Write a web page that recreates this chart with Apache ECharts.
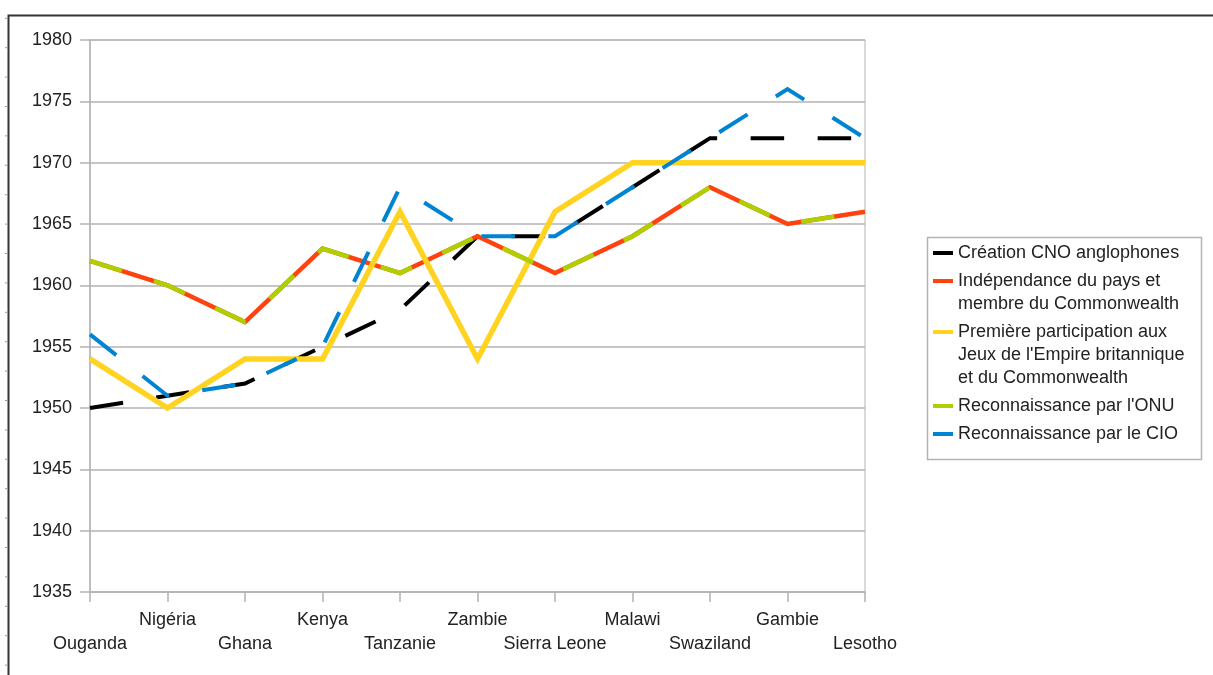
<!DOCTYPE html>
<html>
<head>
<meta charset="utf-8">
<script src="https://cdn.jsdelivr.net/npm/echarts@6.0.0/dist/echarts.min.js"></script>
<style>
  html, body { margin: 0; padding: 0; background: #ffffff; }
  #chart { width: 1213px; height: 675px; }
</style>
</head>
<body>
<div id="chart"></div>
<script>
// Pays africains anglophones : dates clés
const categories = ['Ouganda', 'Nigéria', 'Ghana', 'Kenya', 'Tanzanie', 'Zambie',
  'Sierra Leone', 'Malawi', 'Swaziland', 'Gambie', 'Lesotho'];

const creationCNO   = [1950, 1951, 1952, 1955, 1958, 1964, 1964, 1968, 1972, 1972, 1972];
const independance  = [1962, 1960, 1957, 1963, 1961, 1964, 1961, 1964, 1968, 1965, 1966];
const premiereJeux  = [1954, 1950, 1954, 1954, 1966, 1954, 1966, 1970, 1970, 1970, 1970];
const reconnONU     = [1962, 1960, 1957, 1963, 1961, 1964, 1961, 1964, 1968, 1965, 1966];
const reconnCIO     = [1956, 1951, 1952, 1955, 1968, 1964, 1964, 1968, 1972, 1976, 1972];

const seriesNames = [
  'Création CNO anglophones',
  'Indépendance du pays et\nmembre du Commonwealth',
  'Première participation aux\nJeux de l\'Empire britannique\net du Commonwealth',
  'Reconnaissance par l\'ONU',
  'Reconnaissance par le CIO'
];
const seriesData = [creationCNO, independance, premiereJeux, reconnONU, reconnCIO];
const seriesColors = ['#000000', '#ff420e', '#ffd320', '#aecf00', '#0084d1'];
const seriesWidths = [4, 4.5, 5.5, 4.5, 4];
const seriesDash = [[33.5, 33.5], 'solid', 'solid', [33.5, 33.5], [33.5, 33.5]];

const FONT = '"Liberation Sans", Arial, sans-serif';
const TEXT = '#222222';
const GRID = '#b3b3b3';

const chart = echarts.init(document.getElementById('chart'), null, { renderer: 'canvas' });

// Legend: one block per series so each icon sits on the first line of its label
const LH = 23, GAP = 5, LEG_LEFT = 933;
const legends = [];
let legTop = 241.5;
seriesNames.forEach(function (name, i) {
  const n = name.split('\n').length;
  const h = n * LH;
  const c = LH / 2;
  const icon = 'path://M0,0L20,0Z M0,' + (c - 2) + 'L20,' + (c - 2) + 'L20,' + (c + 2) +
    'L0,' + (c + 2) + 'Z M0,' + h + 'L20,' + h + 'Z';
  legends.push({
    orient: 'vertical',
    left: LEG_LEFT,
    top: legTop,
    padding: 0,
    itemWidth: 20,
    itemHeight: h,
    selectedMode: false,
    itemStyle: { borderWidth: 0 },
    textStyle: { fontFamily: FONT, fontSize: 18, lineHeight: LH, color: TEXT },
    data: [{ name: name, icon: icon }]
  });
  legTop += h + GAP;
});

// Page frame with its small ruler marks
const frameGraphics = [{
  type: 'polyline',
  shape: { points: [[8.5, 675], [8.5, 15.5], [1213, 15.5]] },
  style: { stroke: '#333333', lineWidth: 2, fill: null },
  silent: true
}];
for (let y = 18.3; y < 675; y += 29.4) {
  frameGraphics.push({
    type: 'line',
    shape: { x1: 5, y1: y, x2: 8, y2: y },
    style: { stroke: '#9a9a9a', lineWidth: 1 },
    silent: true
  });
}
frameGraphics.push({
  type: 'rect',
  shape: { x: 927.5, y: 237.5, width: 274, height: 222 },
  style: { stroke: GRID, lineWidth: 1.5, fill: null },
  silent: true
});

const option = {
  animation: false,
  backgroundColor: '#ffffff',
  textStyle: { fontFamily: FONT },
  graphic: { elements: frameGraphics },
  legend: legends,
  grid: {
    left: 90, right: 348, top: 40, bottom: 83,
    show: true, borderColor: GRID, borderWidth: 1, backgroundColor: 'transparent'
  },
  xAxis: {
    type: 'category',
    data: categories,
    boundaryGap: false,
    axisLine: { show: true, lineStyle: { color: GRID, width: 1.5 } },
    axisTick: { show: true, length: 10, interval: 0, lineStyle: { color: GRID, width: 1.5 } },
    splitLine: { show: false },
    axisLabel: {
      interval: 0,
      margin: 16,
      fontFamily: FONT,
      fontSize: 18,
      lineHeight: 24,
      color: TEXT,
      formatter: function (value, index) {
        return index % 2 === 0 ? '\n' + value : value;
      }
    }
  },
  yAxis: {
    type: 'value',
    min: 1935,
    max: 1980,
    interval: 5,
    axisLine: { show: true, lineStyle: { color: GRID, width: 1.5 } },
    axisTick: { show: true, length: 10, lineStyle: { color: GRID, width: 1.5 } },
    splitLine: { show: true, lineStyle: { color: GRID, width: 1.5 } },
    axisLabel: {
      margin: 18,
      fontFamily: FONT,
      fontSize: 18,
      color: TEXT,
      formatter: function (v) { return String(v); }
    }
  },
  series: seriesNames.map(function (name, i) {
    return {
      name: name,
      type: 'line',
      data: seriesData[i],
      symbol: 'none',
      showSymbol: false,
      color: seriesColors[i],
      itemStyle: { color: seriesColors[i] },
      lineStyle: {
        color: seriesColors[i],
        width: seriesWidths[i],
        type: seriesDash[i],
        dashOffset: 0,
        cap: 'butt',
        join: 'miter'
      },
      emphasis: { disabled: true },
      z: 2 + i
    };
  })
};

chart.setOption(option);
</script>
</body>
</html>
